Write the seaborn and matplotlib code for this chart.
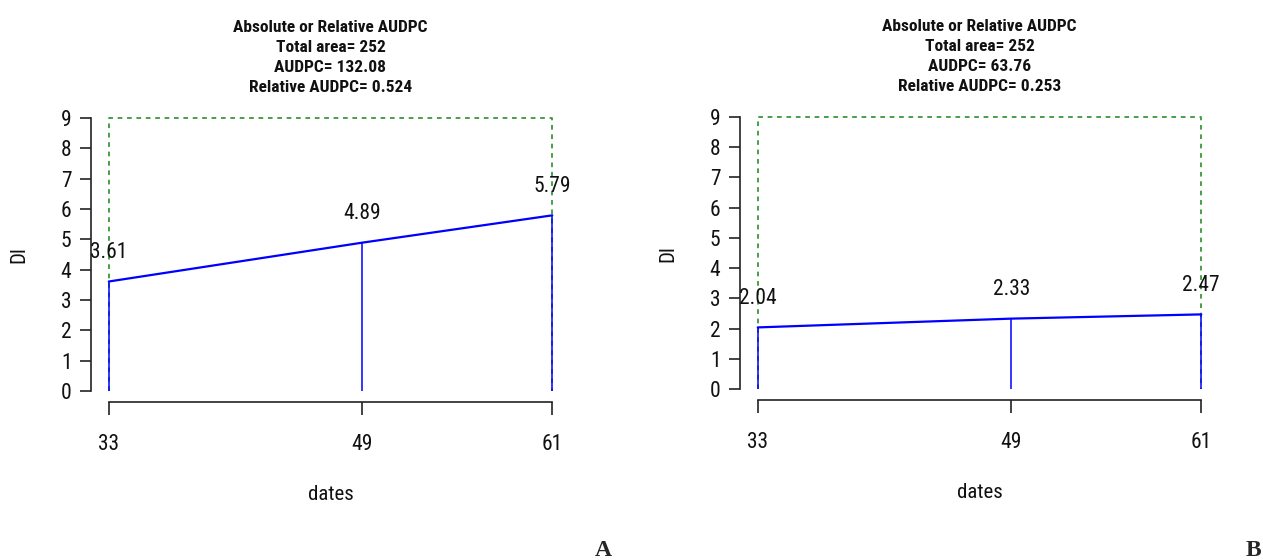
import matplotlib
matplotlib.use("Agg")
import matplotlib.pyplot as plt
import seaborn as sns

# ---- data ----
dates = [33, 49, 61]
di_a = [3.61, 4.89, 5.79]
di_b = [2.04, 2.33, 2.47]
ymax = 9
total_area = [252, 252]
audpc = ["132.08", "63.76"]
rel_audpc = ["0.524", "0.253"]
y_ticks = [0, 1, 2, 3, 4, 5, 6, 7, 8, 9]
panel_letters = ["A", "B"]

sns.set_style("white")
plt.rcParams["font.family"] = ["Roboto Condensed", "Liberation Sans", "DejaVu Sans"]

fig = plt.figure(figsize=(12.63, 5.60), dpi=100)
ax_a = fig.add_axes([91 / 1263, 1 - 402 / 560, 479 / 1263, 295 / 560])
ax_b = fig.add_axes([740 / 1263, 1 - 400 / 560, 479 / 1263, 294 / 560])

green = "#3a963a"
blue = "#0000ff"
ink = "#111111"

for ax, di, ta, au, ra in zip([ax_a, ax_b], [di_a, di_b], total_area, audpc, rel_audpc):
    # green dashed frame of total area
    ax.plot([dates[0], dates[0], dates[-1], dates[-1]], [0, ymax, ymax, 0],
            color=green, lw=1.3, linestyle=(0, (2.6, 2.6)), zorder=1)
    # vertical lines
    ax.vlines(dates, 0, di, color=blue, lw=1.1, zorder=2)
    # connecting line
    sns.lineplot(x=dates, y=di, ax=ax, color=blue, lw=1.6, zorder=3)
    for x, y in zip(dates, di):
        ax.annotate(f"{y:.2f}", (x, y), xytext=(0, 21), textcoords="offset points",
                    ha="center", va="center", fontsize=15.5, color=ink)

    span = dates[-1] - dates[0]
    ax.set_xlim(dates[0] - 0.04 * span, dates[-1] + 0.04 * span)
    ax.set_ylim(-0.04 * ymax, ymax * 1.04)
    ax.set_xticks(dates)
    ax.set_xticklabels([str(d) for d in dates])
    ax.set_yticks(y_ticks)
    ax.set_yticklabels([str(t) for t in y_ticks])

    for s in ["top", "right"]:
        ax.spines[s].set_visible(False)
    ax.spines["left"].set_bounds(0, ymax)
    ax.spines["bottom"].set_bounds(dates[0], dates[-1])
    for s in ["left", "bottom"]:
        ax.spines[s].set_color("#222222")
        ax.spines[s].set_linewidth(1.2)

    ax.tick_params(axis="y", which="major", left=True, length=8, width=1.2, color="#222222",
                   pad=6, labelsize=15.5, labelcolor=ink)
    ax.tick_params(axis="x", which="major", bottom=True, length=9.4, width=1.2, color="#222222",
                   pad=13.5, labelsize=15.5, labelcolor=ink)

    ax.set_ylabel("DI", fontsize=15, color=ink)
    ax.yaxis.set_label_coords(-0.131, 0.5)
    ax.set_xlabel("dates", fontsize=15, color=ink)
    ax.xaxis.set_label_coords(0.5, -0.282)

    title = f"Absolute or Relative AUDPC\nTotal area= {ta}\nAUDPC= {au}\nRelative AUDPC= {ra}"
    ax.set_title(title, fontsize=12.5, fontweight="bold", linespacing=1.43, pad=10.5, color=ink)

for x, letter in zip([603, 1253], panel_letters):
    fig.text(x / 1263, 1 - 550 / 560, letter, ha="center", va="center",
             fontsize=17, fontweight="bold", family=["Liberation Serif", "DejaVu Serif"])

fig.savefig("out.png", dpi=100)
